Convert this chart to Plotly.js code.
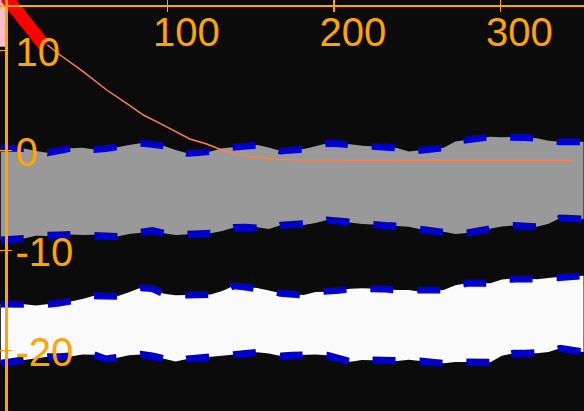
<!DOCTYPE html>
<html>
<head>
<meta charset="utf-8">
<script src="https://cdn.plot.ly/plotly-3.0.1.min.js"></script>
<style>
  html, body { margin: 0; padding: 0; background: #0b0b0b; }
  #chart { width: 584px; height: 411px; }
</style>
</head>
<body>
<div id="chart"></div>
<script>
// band samples
const xs = [0, 7, 14, 21, 28, 35, 42, 49, 56, 63, 70, 77, 84, 91, 98, 105, 112, 119, 126, 133,
  140, 147, 154, 161, 168, 175, 182, 189, 196, 203, 210, 217, 224, 231, 238, 245, 252, 259, 266, 273,
  280, 287, 294, 301, 308, 315, 322, 329, 336, 343, 350];
const grayUpper = [0.2, 0.2, 0.15, -0.1, -0.27, -0.05, 0.18, 0.23, 0.05, 0.15, 0.27, 0.5, 0.67, 0.57, 0.4, 0.0, -0.33, -0.25, -0.15, 0.17,
  0.3, 0.4, 0.5, 0.25, -0.1, 0.0, 0.1, 0.38, 0.67, 0.62, 0.57, 0.43, 0.4, 0.3, 0.2, -0.15, -0.03, 0.1, 0.23, 0.85,
  1.0, 1.17, 1.33, 1.27, 1.3, 1.25, 1.17, 0.93, 0.83, 0.83, 0.83];
const grayLower = [-9.0, -9.0, -8.85, -8.57, -8.6, -8.5, -8.45, -8.5, -8.47, -8.6, -8.65, -8.4, -8.28, -8.05, -8.33, -8.5, -8.43, -8.38, -8.33, -8.1,
  -7.75, -7.72, -7.73, -7.9, -7.53, -7.5, -7.5, -7.3, -7.0, -7.13, -7.27, -7.4, -7.45, -7.55, -7.6, -7.67, -7.93, -8.05, -8.17, -8.4,
  -8.3, -8.07, -7.83, -7.65, -7.55, -7.6, -7.67, -7.37, -6.8, -6.85, -6.9];
const whiteUpper = [-15.4, -15.4, -15.43, -15.55, -15.43, -15.3, -15.15, -14.9, -14.57, -14.6, -14.62, -14.23, -13.78, -13.85, -14.38, -14.53, -14.47, -14.47, -14.45, -14.1,
  -13.58, -13.7, -13.8, -14.05, -14.33, -14.42, -14.5, -14.2, -14.17, -14.02, -13.87, -13.83, -13.83, -13.9, -14.0, -14.0, -14.17, -14.08, -14.0, -13.53,
  -13.33, -13.33, -13.32, -12.95, -12.83, -12.88, -12.93, -12.8, -12.67, -12.62, -12.57];
const whiteLower = [-21.33, -21.15, -21.0, -20.8, -20.67, -20.67, -20.65, -20.46, -20.47, -20.9, -20.77, -20.53, -20.44, -20.6, -20.86, -21.15, -20.9, -20.8, -20.7, -20.54,
  -20.43, -20.33, -20.23, -20.36, -20.6, -20.53, -20.47, -20.45, -20.53, -20.85, -21.17, -20.99, -21.0, -21.05, -21.1, -20.97, -21.1, -21.22, -21.33, -21.2,
  -21.17, -21.2, -21.22, -20.57, -20.33, -20.33, -20.33, -20.2, -19.83, -20.02, -20.2];

// decay curve
const trendX = [28, 35.6, 49.5, 63.6, 75.6, 85.6, 95.6, 103.6, 113.6, 123.7, 131.7, 143.7, 153.7, 163.5, 179.7, 200, 250, 300, 343];
const trendY = [10.5, 9.5, 7.83, 6.0, 4.67, 3.5, 2.67, 2.0, 1.1, 0.6, 0.07, -0.5, -0.73, -0.9, -1.0, -1.03, -1.03, -1.03, -1.03];

// thick start segment + corner marker
const startX = [3, 26];
const startY = [15.3, 10.5];
const cornerX = [1];
const cornerBase = [10.33];
const cornerY = [6];

const xTicks = [100, 200, 300];
const yTicks = [-20, -10, 0, 10];
const yTickText = ["-20", "-10", "0", "10"];

const xRange = [-0.5, 350.3];
const yRange = [-26.1, 15];

const dashed = { color: "#0000cd", width: 7, dash: "23px,24px" };
const noLine = { width: 0 };

const traces = [
  { x: xs, y: grayUpper, mode: "lines", line: noLine, hoverinfo: "skip" },
  { x: xs, y: grayLower, mode: "lines", line: noLine, fill: "tonexty", fillcolor: "#999999", hoverinfo: "skip" },
  { x: xs, y: whiteUpper, mode: "lines", line: noLine, hoverinfo: "skip" },
  { x: xs, y: whiteLower, mode: "lines", line: noLine, fill: "tonexty", fillcolor: "#fafafa", hoverinfo: "skip" },
  { x: xs, y: grayUpper, mode: "lines", line: dashed },
  { x: xs, y: grayLower, mode: "lines", line: dashed },
  { x: xs, y: whiteUpper, mode: "lines", line: dashed },
  { x: xs, y: whiteLower, mode: "lines", line: dashed },
  { x: trendX, y: trendY, mode: "lines", line: { color: "#ff7f50", width: 1.5 } },
  { type: "bar", x: cornerX, y: cornerY, base: cornerBase, width: 3.4, marker: { color: "#ffc0cb", line: { width: 0 } } },
  { x: startX, y: startY, xaxis: "x2", yaxis: "y2", mode: "lines", line: { color: "#ff0000", width: 13 } },
];

const tickFont = { family: "Liberation Sans, Arial, sans-serif", size: 40, color: "orange" };

const layout = {
  width: 584,
  height: 411,
  margin: { l: 0, r: 0, t: 0, b: 0, pad: 0 },
  paper_bgcolor: "#0b0b0b",
  plot_bgcolor: "#0b0b0b",
  showlegend: false,
  xaxis: {
    range: xRange, side: "top", anchor: "free", position: 1 - 5 / 411,
    showline: true, linecolor: "orange", linewidth: 1.5,
    ticks: "inside", ticklen: 5, tickwidth: 1.5, tickcolor: "orange",
    tickvals: xTicks, showticklabels: false, showgrid: false, zeroline: false,
  },
  xaxis2: {
    range: xRange, overlaying: "x", side: "top", anchor: "free", position: 1 - 5 / 411,
    ticks: "outside", ticklen: 5, tickwidth: 1.5, tickcolor: "orange",
    tickvals: xTicks, ticklabelposition: "inside", ticklabelshift: 19, ticklabelstandoff: 9,
    tickfont: tickFont, showline: false, showgrid: false, zeroline: false,
  },
  yaxis: {
    range: yRange, anchor: "free", position: 5.5 / 584,
    showline: true, linecolor: "orange", linewidth: 3,
    ticks: "outside", ticklen: 5, tickwidth: 1, tickcolor: "orange",
    tickvals: yTicks, ticktext: yTickText, ticklabelposition: "inside", ticklabelshift: 2, ticklabelstandoff: 13,
    tickfont: tickFont, showgrid: false, zeroline: false,
  },
  yaxis2: {
    range: yRange, overlaying: "y", anchor: "free", position: 5.5 / 584,
    ticks: "inside", ticklen: 5, tickwidth: 1, tickcolor: "orange",
    tickvals: yTicks, showticklabels: false, showline: false, showgrid: false, zeroline: false,
  },
};

Plotly.newPlot("chart", traces, layout, { staticPlot: true });
</script>
</body>
</html>
